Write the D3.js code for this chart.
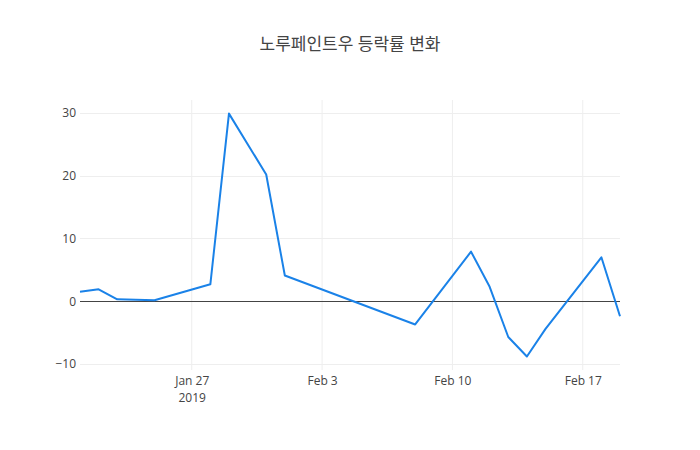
<!DOCTYPE html>
<html>
<head>
<meta charset="utf-8">
<script src="https://cdn.jsdelivr.net/npm/d3@7"></script>
<style>
  body { margin: 0; background: #fff; }
  text { font-family: "Open Sans", "Noto Sans CJK KR", sans-serif; fill: #444; }
</style>
</head>
<body>
<div id="chart"></div>
<script>
// trading days and daily change (%)
var dates = ["2019-01-21", "2019-01-22", "2019-01-23", "2019-01-25", "2019-01-28",
  "2019-01-29", "2019-01-31", "2019-02-01", "2019-02-08", "2019-02-11",
  "2019-02-12", "2019-02-13", "2019-02-14", "2019-02-15", "2019-02-18", "2019-02-19"];
var changes = [1.5, 1.9, 0.3, 0.15, 2.7, 29.9, 20.2, 4.1, -3.7, 7.9,
  2.3, -5.7, -8.8, -4.4, 7.0, -2.4];
var xTicks = ["2019-01-27", "2019-02-03", "2019-02-10", "2019-02-17"];
var yTicks = [-10, 0, 10, 20, 30];

var width = 700, height = 450;
var margin = { left: 80, right: 80, top: 100, bottom: 80 };
var parse = d3.timeParse("%Y-%m-%d");

var data = dates.map(function (d, i) { return { date: parse(d), v: changes[i] }; });

var svg = d3.select("#chart").append("svg")
  .attr("width", width)
  .attr("height", height);

var x = d3.scaleTime()
  .domain([parse(dates[0]), parse(dates[dates.length - 1])])
  .range([margin.left, width - margin.right]);

var y = d3.scaleLinear()
  .domain([-10.96, 32.07])
  .range([height - margin.bottom, margin.top]);

// grid
svg.append("g").selectAll("line.vg")
  .data(xTicks).enter().append("line")
  .attr("x1", function (d) { return x(parse(d)); })
  .attr("x2", function (d) { return x(parse(d)); })
  .attr("y1", margin.top).attr("y2", height - margin.bottom)
  .attr("stroke", "#eee").attr("stroke-width", 1);

svg.append("g").selectAll("line.hg")
  .data(yTicks.filter(function (d) { return d !== 0; })).enter().append("line")
  .attr("x1", margin.left).attr("x2", width - margin.right)
  .attr("y1", function (d) { return Math.round(y(d)) + 0.5; })
  .attr("y2", function (d) { return Math.round(y(d)) + 0.5; })
  .attr("stroke", "#eee").attr("stroke-width", 1);

// zero line
svg.append("line")
  .attr("x1", margin.left).attr("x2", width - margin.right)
  .attr("y1", Math.round(y(0)) + 0.5).attr("y2", Math.round(y(0)) + 0.5)
  .attr("stroke", "#444").attr("stroke-width", 1);

// y axis labels
var yAxis = d3.axisLeft(y).tickValues(yTicks).tickSize(0).tickPadding(4)
  .tickFormat(function (d) { return d < 0 ? "\u2212" + Math.abs(d) : d; });
var gy = svg.append("g")
  .attr("transform", "translate(" + margin.left + ",0)")
  .call(yAxis);
gy.select(".domain").remove();
gy.selectAll("text").style("font-size", "12px").attr("fill", "#444");

// x axis labels
var xAxis = d3.axisBottom(x).tickValues(xTicks.map(parse)).tickSize(0).tickPadding(6)
  .tickFormat(d3.timeFormat("%b %-d"));
var gx = svg.append("g")
  .attr("transform", "translate(0," + (height - margin.bottom) + ")")
  .call(xAxis);
gx.select(".domain").remove();
gx.selectAll("text").style("font-size", "12px").attr("fill", "#444");
gx.selectAll(".tick").filter(function (d, i) { return i === 0; })
  .append("text")
  .attr("y", 23).attr("dy", "0.71em")
  .attr("text-anchor", "middle")
  .style("font-size", "12px").attr("fill", "#444")
  .text("2019");

// series
var line = d3.line()
  .x(function (d) { return x(d.date); })
  .y(function (d) { return y(d.v); });

svg.append("path")
  .datum(data)
  .attr("d", line)
  .attr("fill", "none")
  .attr("stroke", "#1a82e8")
  .attr("stroke-width", 2)
  .attr("stroke-linejoin", "round");

// title
svg.append("text")
  .attr("x", width / 2)
  .attr("y", 50)
  .attr("text-anchor", "middle")
  .style("font-size", "17px")
  .text("노루페인트우 등락률 변화");
</script>
</body>
</html>
